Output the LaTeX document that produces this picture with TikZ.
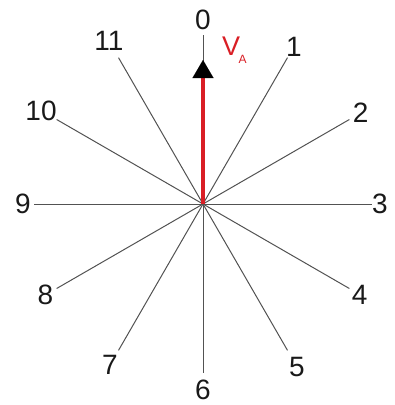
\documentclass[tikz,border=0pt]{standalone}
\usepackage{fontspec}
\setmainfont{Liberation Sans}
\usetikzlibrary{arrows.meta,calc}
\definecolor{vred}{HTML}{D91E25}
\begin{document}
\begin{tikzpicture}[x=1pt,y=-1pt,
  spoke/.style={draw=black!68,line width=1pt},
  numlbl/.style={font=\fontsize{28}{28}\selectfont,inner sep=0pt,text=black!90},
  vector/.style={draw=vred,line width=4pt,-{Triangle[width=21pt,length=18pt,line width=0.01pt,black]}}]
\useasboundingbox (0,0) rectangle (395,405);
\coordinate (c) at (203,204);
\foreach \i/\r in {0/184,1/182,2/182,3/177,4/181,5/188,6/186,7/186,8/182,9/180,10/187,11/188}{
  \coordinate (e\i) at ($(c)+({sin(30*\i)*169},{-cos(30*\i)*169})$);
  \node[numlbl] (l\i) at ($(c)+({sin(30*\i)*\r},{-cos(30*\i)*\r})$) {\i};
  \draw[spoke] (c) -- (e\i);
}
\coordinate (tip) at (203,60);
\draw[vector] (c) -- (tip);
\node[anchor=base west,inner sep=0pt,text=vred,font=\fontsize{27}{27}\selectfont] (va) at (222,55) {V\kern-1.5pt\raisebox{-8pt}{\fontsize{12}{12}\selectfont A}};
\end{tikzpicture}
\end{document}
